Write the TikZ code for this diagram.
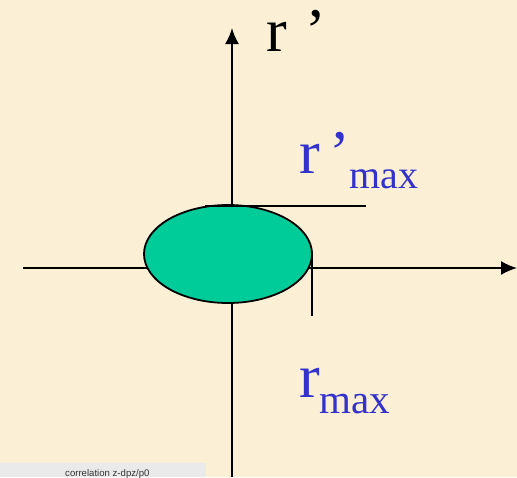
\documentclass[tikz,border=0pt]{standalone}
\usepackage{fontspec}
\setmainfont{Liberation Serif}
\newfontfamily\notefont{Liberation Sans}
\usetikzlibrary{arrows.meta}
\definecolor{paper}{HTML}{FBEFD6}
\definecolor{blob}{HTML}{00CC99}
\definecolor{labelblue}{HTML}{3333CC}
\definecolor{notebg}{HTML}{EAEAEA}
\definecolor{noteink}{HTML}{333333}
\tikzset{
  axis/.style={-{Latex[length=16pt, width=14pt]}, line width=1.8pt, draw=black},
  bound/.style={line width=2.6pt, draw=black},
  big/.style={inner sep=0pt, anchor=base west, font=\fontsize{62}{62}\selectfont},
  note/.style={text=noteink, inner sep=0pt, font=\notefont\fontsize{9.6}{9.6}\selectfont}
}
\begin{document}
\begin{tikzpicture}[x=1pt, y=-1pt]

\fill[paper] (0,0) rectangle (517,477);
\useasboundingbox (0,0) rectangle (517,477);

% axes
\coordinate (ybot) at (232,477);
\coordinate (ytop) at (232,28);
\coordinate (xleft) at (23,268);
\coordinate (xright) at (517,268);
\draw[axis] (ybot) -- (ytop);
\draw[axis] (xleft) -- (xright);

% distribution
\draw[fill=blob, line width=1.8pt] (228,254) ellipse [x radius=84, y radius=49];

% limits
\coordinate (ra) at (205,206);
\coordinate (rb) at (366,206);
\coordinate (sa) at (312,251);
\coordinate (sb) at (312,316);
\draw[bound] (ra) -- (rb);
\draw[bound] (sa) -- (sb);

% labels
\node[big] (rprime) at (266,51) {r\hspace{0.3em}\textquoteright};
\node[big, text=labelblue] (rpmax) at (299,173)
  {r\hspace{0.15em}\textquoteright\raisebox{-15pt}{\fontsize{40}{40}\selectfont max}};
\node[big, text=labelblue] (rmax) at (299,397)
  {r\raisebox{-16pt}{\fontsize{41}{41}\selectfont max}};

\fill[notebg] (0,463) rectangle (206,477);
\node[note, anchor=base west] (caption) at (65,476)
  {correlation z-dpz/p0};

\end{tikzpicture}
\end{document}
